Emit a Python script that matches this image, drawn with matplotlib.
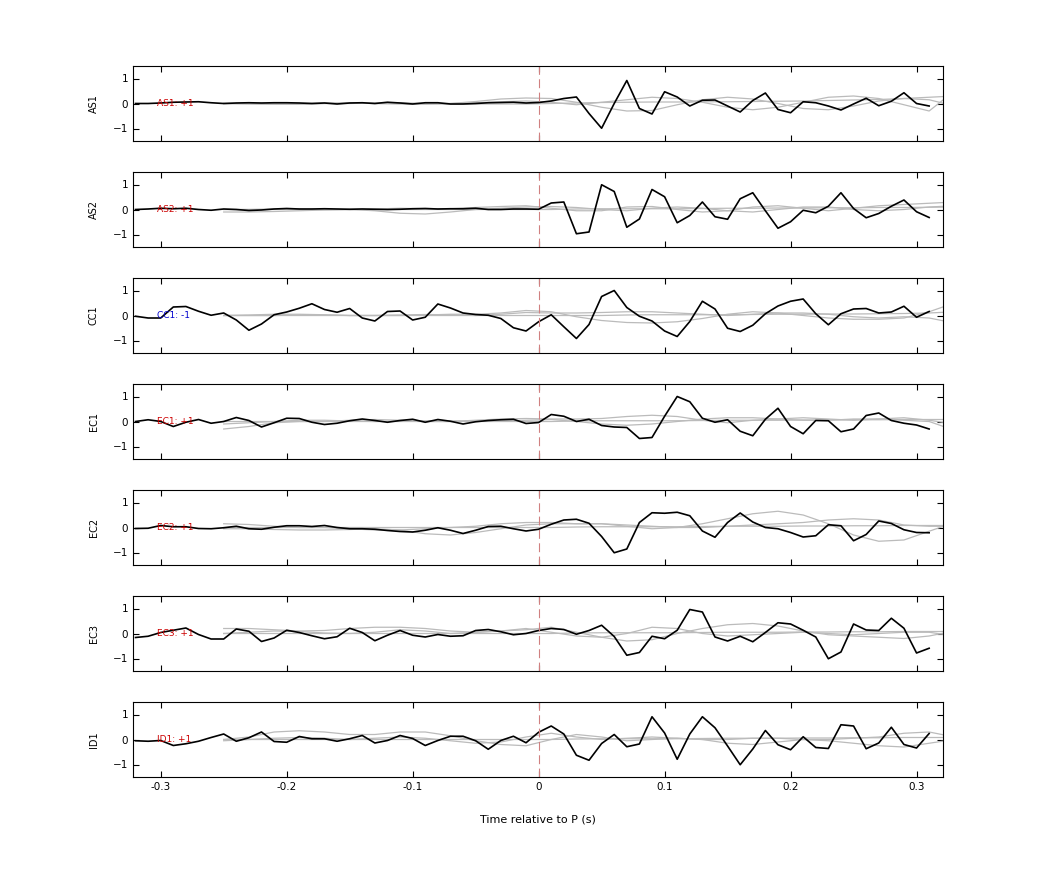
import numpy as np
import matplotlib
matplotlib.use("Agg")
import matplotlib.pyplot as plt

t = np.round(np.arange(-0.32, 0.315, 0.01), 3)
tg = np.round(np.arange(-0.25, 0.335, 0.02), 3)

stations = ["AS1", "AS2", "CC1", "EC1", "EC2", "EC3", "ID1"]
polarity = ["+1", "+1", "-1", "+1", "+1", "+1", "+1"]
label_colors = ["#cc0000", "#cc0000", "#0000cc", "#cc0000", "#cc0000", "#cc0000", "#cc0000"]

as1 = [0, 0, 0.02, 0.05, 0.06, 0.07, 0.03, 0.0, 0.02, 0.03, 0.02, 0.03, 0.03, 0.02, 0.0, 0.02,
       -0.02, 0.02, 0.03, 0.0, 0.05, 0.02, -0.02, 0.03, 0.03, -0.02, -0.02, 0.0, 0.03, 0.04, 0.05, 0.02,
       0.04, 0.1, 0.2, 0.26, -0.4, -0.99, 0.0, 0.92, -0.2, -0.42, 0.47, 0.26, -0.1, 0.13, 0.14, -0.1,
       -0.34, 0.12, 0.42, -0.24, -0.37, 0.07, 0.03, -0.1, -0.26, -0.02, 0.21, -0.09, 0.09, 0.43, 0.0, -0.1]
as2 = [0, 0.02, 0.05, 0.03, 0.05, 0.0, -0.03, 0.02, 0.0, -0.04, -0.02, 0.02, 0.04, 0.02, 0.02, 0.03,
       0.02, 0.01, 0.02, 0.01, 0.0, 0.01, 0.03, 0.04, 0.02, 0.03, 0.03, 0.05, 0.0, 0.0, 0.02, 0.02,
       0.01, 0.26, 0.3, -0.97, -0.9, 0.99, 0.72, -0.71, -0.38, 0.8, 0.51, -0.53, -0.24, 0.3, -0.29, -0.39,
       0.43, 0.67, -0.05, -0.75, -0.49, -0.03, -0.13, 0.13, 0.67, 0.04, -0.33, -0.16, 0.13, 0.38, -0.09, -0.32]
cc1 = [-0.03, -0.1, -0.1, 0.34, 0.36, 0.17, 0.01, 0.1, -0.18, -0.59, -0.34, 0.03, 0.14, 0.29, 0.47, 0.24,
       0.13, 0.28, -0.1, -0.22, 0.16, 0.18, -0.18, -0.07, 0.46, 0.3, 0.1, 0.04, 0.01, -0.12, -0.49, -0.62,
       -0.25, 0.03, -0.45, -0.92, -0.36, 0.76, 1.0, 0.32, -0.03, -0.22, -0.62, -0.84, -0.24, 0.57, 0.26, -0.51,
       -0.64, -0.39, 0.07, 0.38, 0.57, 0.66, 0.07, -0.37, 0.07, 0.26, 0.28, 0.1, 0.14, 0.37, -0.07, 0.16]
ec1 = [0.0, 0.07, 0.0, -0.2, -0.03, 0.08, -0.07, 0.0, 0.16, 0.04, -0.22, -0.05, 0.13, 0.12, -0.03, -0.12,
       -0.07, 0.03, 0.1, 0.04, -0.03, 0.04, 0.09, -0.03, 0.08, 0.01, -0.1, -0.01, 0.04, 0.07, 0.09, -0.08,
       -0.04, 0.28, 0.21, 0.0, 0.09, -0.16, -0.22, -0.24, -0.68, -0.64, 0.21, 1.0, 0.79, 0.13, -0.03, 0.07,
       -0.39, -0.57, 0.09, 0.53, -0.2, -0.49, 0.04, 0.03, -0.41, -0.3, 0.24, 0.34, 0.04, -0.07, -0.14, -0.3]
ec2 = [-0.04, -0.03, 0.08, 0.03, 0.03, -0.04, -0.05, -0.01, 0.05, -0.05, -0.07, 0.01, 0.07, 0.07, 0.04, 0.08,
       0.0, -0.05, -0.05, -0.07, -0.12, -0.16, -0.18, -0.11, -0.01, -0.11, -0.24, -0.11, 0.04, 0.05, -0.05, -0.14,
       -0.07, 0.13, 0.3, 0.33, 0.17, -0.36, -1.01, -0.86, 0.2, 0.59, 0.57, 0.61, 0.47, -0.14, -0.39, 0.2,
       0.58, 0.22, 0.0, -0.05, -0.2, -0.38, -0.33, 0.11, 0.07, -0.53, -0.28, 0.26, 0.16, -0.09, -0.2, -0.21]
ec3 = [-0.16, -0.11, 0.04, 0.13, 0.22, -0.04, -0.22, -0.22, 0.18, 0.09, -0.32, -0.18, 0.13, 0.04, -0.09, -0.21,
       -0.13, 0.21, 0.04, -0.29, -0.07, 0.12, -0.07, -0.14, -0.04, -0.11, -0.09, 0.12, 0.16, 0.07, -0.05, 0.0,
       0.12, 0.2, 0.16, -0.03, 0.12, 0.33, -0.12, -0.87, -0.76, -0.11, -0.21, 0.13, 0.96, 0.86, -0.14, -0.3,
       -0.11, -0.33, 0.04, 0.43, 0.38, 0.13, -0.14, -1.01, -0.74, 0.38, 0.14, 0.12, 0.61, 0.21, -0.78, -0.59]
id1 = [-0.05, -0.07, -0.04, -0.24, -0.17, -0.07, 0.08, 0.22, -0.07, 0.07, 0.3, -0.08, -0.11, 0.12, 0.03, 0.03,
       -0.07, 0.03, 0.16, -0.14, -0.04, 0.16, 0.04, -0.24, -0.04, 0.13, 0.13, -0.05, -0.39, -0.04, 0.13, -0.13,
       0.29, 0.54, 0.22, -0.63, -0.83, -0.16, 0.2, -0.29, -0.18, 0.91, 0.26, -0.79, 0.22, 0.91, 0.47, -0.26,
       -1.01, -0.38, 0.36, -0.21, -0.41, 0.11, -0.32, -0.36, 0.59, 0.54, -0.37, -0.14, 0.49, -0.2, -0.34, 0.24]
black = [as1, as2, cc1, ec1, ec2, ec3, id1]

# gray (synthetic) traces, sampled every 0.02 s from -0.25 s
gray = [
    [[0, -0.02, -0.03, -0.03, 0, 0.02, 0.0, -0.02, -0.03, 0.0, 0.08, 0.18, 0.22, 0.2, 0.05, -0.15, -0.3, -0.28, -0.05, 0.15, 0.25, 0.18, 0.0, -0.2, -0.25, -0.1, 0.1, 0.2, 0.15, -0.1],
     [0, 0, -0.02, -0.02, 0, 0, 0.02, 0.03, 0, 0, 0.03, 0.07, 0.1, 0.05, -0.05, 0.05, 0.15, 0.25, 0.2, 0.05, -0.15, -0.25, -0.15, 0.05, 0.25, 0.3, 0.2, -0.05, -0.3, 0.5],
     [0, 0, 0, 0, 0.02, 0.02, 0, 0, 0, -0.02, -0.02, -0.02, -0.02, 0.0, 0.02, 0.04, 0.05, 0.06, 0.06, 0.07, 0.07, 0.08, 0.09, 0.1, 0.12, 0.14, 0.16, 0.2, 0.25, 0.3]],
    [[-0.1, -0.1, -0.08, -0.05, -0.02, 0.0, -0.05, -0.15, -0.18, -0.1, 0.0, 0.05, 0.1, 0.12, 0.08, 0.0, -0.05, 0.05, 0.1, 0.05, -0.05, -0.1, 0.0, 0.1, 0.1, 0.0, -0.05, 0.0, 0.1, 0.15],
     [0, 0, 0.02, 0.02, 0, 0, 0.02, 0.05, 0.03, 0.03, 0.08, 0.12, 0.15, 0.05, -0.05, -0.05, 0.1, 0.12, 0.0, -0.1, -0.05, 0.1, 0.15, 0.05, -0.05, 0.05, 0.15, 0.2, 0.25, 0.3],
     [0, 0, 0, 0, 0, 0, 0, 0, 0, 0, 0, 0, 0, 0, 0.02, 0.03, 0.03, 0.03, 0.03, 0.04, 0.05, 0.05, 0.06, 0.06, 0.07, 0.07, 0.08, 0.08, 0.09, 0.1]],
    [[0, 0, 0, 0.02, 0.02, 0, 0, 0, 0.02, 0.05, 0.05, 0.1, 0.2, 0.15, -0.05, -0.2, -0.28, -0.3, -0.25, -0.12, 0.05, 0.15, 0.1, 0.0, -0.1, -0.15, -0.15, -0.1, 0.15, 0.5],
     [0, 0.02, 0.05, 0.05, 0.03, 0, 0, 0.02, 0.04, 0.03, 0, 0.05, 0.12, 0.1, 0.1, 0.12, 0.15, 0.15, 0.1, 0.05, 0.0, 0.05, 0.1, 0.1, 0.05, -0.05, -0.1, -0.05, -0.1, -0.3],
     [0, 0, 0, 0, 0, 0, 0, 0, 0, 0, 0, 0, 0, 0, 0, 0, 0.02, 0.03, 0.03, 0.03, 0.03, 0.04, 0.05, 0.05, 0.06, 0.06, 0.07, 0.08, 0.1, 0.15]],
    [[-0.3, -0.2, -0.05, 0.0, 0.0, 0.05, 0.08, 0.05, 0.0, 0.0, 0.05, 0.1, 0.12, 0.1, 0.1, 0.12, 0.2, 0.25, 0.2, 0.05, -0.05, 0.05, 0.1, 0.15, 0.1, 0.05, 0.1, 0.15, 0.05, -0.1],
     [-0.1, -0.05, 0, 0.05, 0.05, 0.02, 0, 0.02, 0.03, 0.02, 0.02, 0.02, 0.05, 0.08, 0.0, -0.1, -0.15, -0.1, 0.0, 0.1, 0.15, 0.15, 0.1, 0.05, 0.05, 0.1, 0.1, 0.05, 0.0, -0.35],
     [0, 0, 0, 0, 0, 0, 0, 0, 0, 0, 0, 0, 0, 0, 0.02, 0.03, 0.03, 0.03, 0.03, 0.04, 0.05, 0.05, 0.05, 0.06, 0.06, 0.07, 0.07, 0.08, 0.08, 0.08]],
    [[0.15, 0.12, 0.05, 0.0, 0.0, -0.05, -0.1, -0.1, -0.05, 0.0, 0.05, 0.15, 0.2, 0.2, 0.15, 0.15, 0.05, -0.05, 0.0, 0.15, 0.35, 0.55, 0.65, 0.5, 0.15, -0.3, -0.55, -0.5, -0.15, 0.2],
     [-0.05, -0.05, -0.08, -0.1, -0.1, -0.08, -0.05, -0.1, -0.25, -0.3, -0.2, -0.05, 0.1, 0.15, 0.15, 0.15, 0.1, 0.05, 0.0, 0.0, 0.05, 0.1, 0.15, 0.2, 0.3, 0.35, 0.3, 0.1, 0.05, 0.05],
     [0, 0, 0, 0, 0, 0, 0, 0, 0, 0, 0, 0, 0, 0, 0.02, 0.03, 0.03, 0.03, 0.03, 0.04, 0.05, 0.05, 0.05, 0.06, 0.06, 0.07, 0.07, 0.08, 0.08, 0.08]],
    [[0.2, 0.2, 0.15, 0.1, 0.12, 0.2, 0.25, 0.25, 0.2, 0.1, 0.05, 0.1, 0.15, 0.25, 0.05, -0.15, -0.3, -0.25, 0.0, 0.2, 0.35, 0.4, 0.3, 0.1, -0.05, -0.1, -0.15, -0.2, -0.1, 0.1],
     [0.0, 0.05, 0.1, 0.08, 0.02, 0.0, 0.05, 0.15, 0.1, 0.0, 0.05, 0.1, 0.2, 0.05, -0.1, -0.15, 0.0, 0.25, 0.2, 0.0, -0.1, -0.05, 0.0, 0.05, 0.0, -0.05, 0.0, 0.05, 0.05, -0.1],
     [0, 0, 0, 0, 0, 0, 0, 0, 0, 0, 0, 0, 0, 0, 0.02, 0.03, 0.03, 0.03, 0.03, 0.04, 0.05, 0.05, 0.05, 0.06, 0.06, 0.07, 0.07, 0.08, 0.08, 0.08]],
    [[0.0, 0.1, 0.3, 0.35, 0.3, 0.2, 0.2, 0.3, 0.3, 0.15, -0.05, -0.2, -0.25, 0.0, 0.2, 0.1, -0.05, 0.0, 0.05, 0.0, -0.15, -0.2, -0.1, 0.0, -0.05, -0.15, -0.25, -0.3, -0.15, 0.0],
     [-0.05, 0.0, 0.05, 0.08, 0.05, 0.0, 0.05, 0.1, 0.05, -0.05, -0.15, -0.1, 0.1, 0.25, 0.1, 0.0, 0.05, 0.1, 0.05, 0.0, 0.0, 0.05, 0.05, 0.0, 0.0, 0.05, 0.1, 0.25, 0.3, 0.1],
     [0, 0, 0, 0, 0, 0, 0, 0, 0, 0, 0, 0, 0, 0, 0.02, 0.03, 0.03, 0.03, 0.03, 0.04, 0.05, 0.05, 0.05, 0.06, 0.06, 0.07, 0.07, 0.08, 0.08, 0.08]],
]

fig = plt.figure(figsize=(10.42, 8.75), dpi=100)
left, width = 133 / 1042, 810 / 1042
tops = [66, 172, 278, 384, 490, 596, 702]
for i, st in enumerate(stations):
    ax = fig.add_axes([left, 1 - (tops[i] + 75) / 875, width, 75 / 875])
    for g in gray[i]:
        ax.plot(tg, g, color="#bbbbbb", lw=0.9)
    ax.plot(t, black[i], color="black", lw=1.2)
    ax.axvline(0, color="#d08080", lw=0.8, ls=(0, (8, 4)))
    ax.text(-0.303, 0, f"{st}: {polarity[i]}", color=label_colors[i], fontsize=6.5, va="center", ha="left")
    ax.set_xlim(-0.322, 0.321)
    ax.set_ylim(-1.5, 1.5)
    ax.set_yticks([-1, 0, 1])
    ax.set_xticks([-0.3, -0.2, -0.1, 0, 0.1, 0.2, 0.3])
    ax.tick_params(direction="in", top=True, right=True, labelsize=7.5, length=4)
    ax.set_ylabel(st, fontsize=7, labelpad=10)
    for s in ax.spines.values():
        s.set_linewidth(0.8)
    if i < len(stations) - 1:
        ax.set_xticklabels([])
    else:
        ax.set_xticklabels(["-0.3", "-0.2", "-0.1", "0", "0.1", "0.2", "0.3"])
        ax.set_xlabel("Time relative to P (s)", fontsize=8, labelpad=16)

fig.savefig("out.png", dpi=100)
